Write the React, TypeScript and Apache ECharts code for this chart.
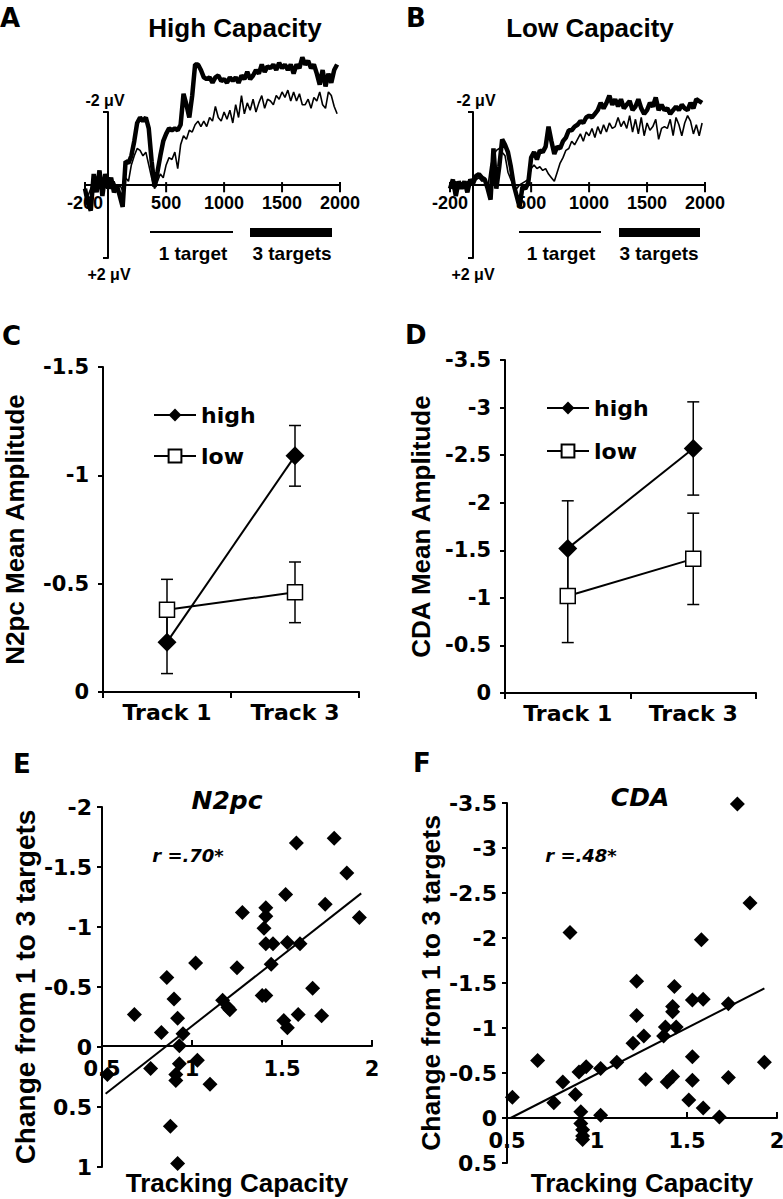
import React, { useEffect, useRef } from 'react';
import * as echarts from 'echarts';

const FA = '"Liberation Sans", Arial, sans-serif';
const FC = '"DejaVu Sans", sans-serif';

// ---------- Panels A / B : ERP waveforms ----------
const times = [
  -200, -175, -150, -125, -100, -75, -50, -25, 0, 25, 50, 75, 100, 125, 150, 175, 200, 225, 250, 275,
  300, 325, 350, 375, 400, 425, 450, 475, 500, 525, 550, 575, 600, 625, 650, 675, 700, 725, 750, 775,
  800, 825, 850, 875, 900, 925, 950, 975, 1000, 1025, 1050, 1075, 1100, 1125, 1150, 1175, 1200, 1225,
  1250, 1275, 1300, 1325, 1350, 1375, 1400, 1425, 1450, 1475, 1500, 1525, 1550, 1575, 1600, 1625,
  1650, 1675, 1700, 1725, 1750, 1775, 1800, 1825, 1850, 1875, 1900, 1925, 1950, 1975,
];
const highThree = [
  0.1, 0.5, 0.7, -0.3, 0.2, -0.4, 0.3, -0.3, 0.1, -0.2, 0.2, 0.0, 0.3, 0.6, -0.65, -0.6, -0.8, -1.2, -1.7, -1.85,
  -1.75, -1.85, -1.55, -0.65, 0.05, -0.35, -0.8, -1.2, -1.4, -1.55, -1.5, -1.55, -1.5, -1.65, -2.5, -2.2, -1.85, -2.45, -3.3, -3.3,
  -3.15, -2.95, -2.9, -2.95, -2.8, -2.95, -3.0, -2.85, -2.9, -2.8, -2.95, -2.85, -2.95, -2.8, -3.0, -2.9, -3.1, -2.9,
  -3.0, -3.15, -3.05, -3.3, -3.1, -3.25, -3.2, -3.3, -3.15, -3.35, -3.2, -3.3, -3.15, -3.3, -3.05, -3.3,
  -3.2, -3.5, -3.3, -3.4, -3.2, -3.3, -3.05, -2.75, -3.15, -2.7, -3.05, -2.8, -3.15, -3.3,
];
const highOne = [
  0.2, 0.3, 0.1, -0.2, 0.1, -0.1, 0.2, -0.1, 0.0, 0.1, -0.1, 0.1, 0.0, 0.15, -0.2, -0.1, -0.55, -0.8, -1.0, -0.95,
  -0.8, -0.9, -0.55, -0.2, 0.1, -0.1, -0.3, -0.2, -0.55, -0.75, -0.7, -0.9, -0.45, -1.1, -1.35, -1.25, -1.5, -1.45, -1.65, -1.75,
  -1.6, -1.75, -1.6, -1.85, -1.75, -2.15, -1.85, -1.75, -2.0, -1.8, -2.05, -1.7, -2.2, -1.85, -2.45, -1.95, -2.25, -2.05,
  -2.35, -2.0, -2.25, -2.45, -2.1, -2.35, -2.3, -2.2, -2.45, -2.35, -2.55, -2.4, -2.6, -2.3, -2.55, -2.3,
  -2.5, -2.2, -2.2, -2.35, -2.1, -2.4, -2.3, -2.55, -2.2, -2.1, -2.55, -2.45, -2.15, -1.95,
];
const lowThree = [
  0.1, -0.15, 0.3, -0.1, 0.1, -0.1, 0.2, -0.15, -0.05, -0.25, -0.3, -0.2, -0.15, 0.1, 0.4, -1.0, 0.1, -0.5, -1.25, -1.1,
  -0.9, -0.5, 0.0, 0.3, 0.6, 0.05, 0.1, -0.05, -0.75, -0.9, -0.7, -0.95, -0.9, -1.05, -1.6, -1.2, -0.85, -1.05, -1.0, -1.2,
  -1.3, -1.5, -1.5, -1.6, -1.65, -1.75, -1.7, -1.85, -1.9, -1.85, -1.95, -2.05, -2.25, -2.1, -2.25, -2.45, -2.2, -2.35,
  -2.15, -2.35, -2.1, -2.2, -2.3, -2.05, -2.15, -2.35, -2.1, -1.95, -2.05, -2.25, -2.15, -2.4, -2.05, -2.2,
  -2.05, -2.1, -1.95, -2.05, -2.15, -2.05, -2.2, -2.1, -2.05, -2.25, -2.1, -2.35, -2.3, -2.25,
];
const lowOne = [
  0.0, 0.1, -0.1, 0.1, -0.05, 0.05, -0.1, 0.0, -0.1, -0.15, -0.2, -0.1, -0.15, 0.1, -0.5, -0.8, -0.95, -1.0, -0.9, -0.8,
  -0.35, -0.15, 0.05, 0.1, 0.0, -0.05, -0.1, -0.15, -0.45, -0.55, -0.45, -0.5, -0.4, -0.45, -0.3, -0.2, -0.1, -0.35, -0.6, -0.75,
  -0.95, -1.0, -1.2, -1.1, -1.25, -1.4, -1.2, -1.45, -1.35, -1.55, -1.3, -1.6, -1.4, -1.65, -1.45, -1.7, -1.55, -1.6,
  -1.85, -1.6, -1.75, -1.55, -1.9, -1.45, -1.8, -1.4, -1.85, -1.35, -1.7, -1.5, -1.6, -1.8, -1.25, -1.55,
  -1.6, -1.55, -1.8, -1.35, -1.85, -1.65, -1.35, -1.7, -1.9, -1.75, -1.4, -1.65, -1.35, -1.7,
];
const xTicksAB = [-200, 500, 1000, 1500, 2000];
const tickSpanAB = [-0.08, 0.2]; // tick mark extent around the zero line, in µV
const yLabelsAB = ['-2 μV', '+2 μV'];
const titlesAB = ['High Capacity', 'Low Capacity'];
const legendAB = ['1 target', '3 targets'];

// ---------- Panels C / D : mean amplitudes ----------
const tracks = ['Track 1', 'Track 3'];
const groupNames = ['high', 'low'];
const n2pcHigh = [-0.23, -1.09];
const n2pcHighErr = [0.145, 0.14];
const n2pcLow = [-0.38, -0.46];
const n2pcLowErr = [0.14, 0.14];
const cdaHigh = [-1.52, -2.57];
const cdaHighErr = [0.5, 0.49];
const cdaLow = [-1.02, -1.41];
const cdaLowErr = [0.49, 0.48];

// ---------- Panels E / F : correlations ----------
const n2pcScatter = [
  [1.58, -1.7], [1.79, -1.74], [1.86, -1.45], [1.52, -1.27], [1.74, -1.19], [1.93, -1.08], [1.28, -1.12],
  [1.41, -1.16], [1.41, -1.09], [1.4, -0.99], [1.41, -0.86], [1.45, -0.86], [1.53, -0.87], [1.6, -0.86],
  [1.44, -0.69], [1.02, -0.7], [1.25, -0.66], [0.86, -0.58], [0.9, -0.4], [1.17, -0.39], [1.2, -0.33],
  [1.21, -0.31], [1.39, -0.43], [1.41, -0.43], [1.67, -0.49], [0.68, -0.27], [0.92, -0.24], [1.51, -0.22],
  [1.53, -0.16], [1.59, -0.27], [1.72, -0.26], [0.83, -0.12], [0.95, -0.11], [0.93, -0.01], [1.03, 0.11],
  [0.93, 0.14], [0.77, 0.18], [0.53, 0.23], [0.91, 0.23], [0.91, 0.28], [1.1, 0.31], [0.88, 0.66], [0.92, 0.97],
];
const n2pcFit = [[0.52, 0.39], [1.94, -1.28]];
const cdaScatter = [
  [1.78, -3.49], [1.85, -2.39], [0.85, -2.06], [1.58, -1.98], [1.22, -1.52], [1.43, -1.46], [1.53, -1.31],
  [1.59, -1.32], [1.73, -1.27], [1.42, -1.24], [1.42, -1.18], [1.22, -1.14], [1.38, -1.01], [1.44, -1.01],
  [1.37, -0.91], [1.26, -0.91], [1.2, -0.83], [1.11, -0.62], [1.02, -0.55], [0.94, -0.57], [0.9, -0.51],
  [0.67, -0.64], [1.53, -0.68], [1.93, -0.62], [0.81, -0.4], [1.27, -0.43], [1.39, -0.4], [1.42, -0.46],
  [1.53, -0.42], [1.73, -0.45], [0.53, -0.23], [0.76, -0.17], [0.88, -0.26], [1.51, -0.2], [1.59, -0.11],
  [1.68, -0.01], [1.02, -0.03], [0.91, -0.07], [0.91, 0.06], [0.92, 0.13], [0.92, 0.2], [0.92, 0.24],
];
const cdaFit = [[0.52, 0.0], [1.93, -1.44]];
const titlesEF = ['N2pc', 'CDA'];
const rValues = ['r =.70*', 'r =.48*'];
const panelLetters = ['A', 'B', 'C', 'D', 'E', 'F'];

const BLACK = '#000';

function zip(vals: number[]) {
  return times.map((t, i) => [t, vals[i]]);
}

function errRender(params: any, api: any) {
  const x = api.value(0);
  const m = api.value(1);
  const e = api.value(2);
  const top = api.coord([x, m - e]);
  const bot = api.coord([x, m + e]);
  const w = 6;
  const st = { stroke: BLACK, lineWidth: 1.5 };
  return {
    type: 'group',
    children: [
      { type: 'line', shape: { x1: top[0], y1: top[1], x2: bot[0], y2: bot[1] }, style: st },
      { type: 'line', shape: { x1: top[0] - w, y1: top[1], x2: top[0] + w, y2: top[1] }, style: st },
      { type: 'line', shape: { x1: bot[0] - w, y1: bot[1], x2: bot[0] + w, y2: bot[1] }, style: st },
    ],
  };
}

function text(t: string, x: number, y: number, font: string, align = 'center') {
  return {
    type: 'text',
    x,
    y,
    z: 100,
    style: {
      text: t,
      font,
      fill: BLACK,
      align,
      verticalAlign: 'middle',
      textAlign: align,
      textVerticalAlign: 'middle',
    },
  };
}

const axisLine = { lineStyle: { color: BLACK, width: 2 } };

function waveAxes(grid: number) {
  return {
    x: {
      type: 'value',
      gridIndex: grid,
      min: -200,
      max: 2000,
      interval: 100,
      offset: -73,
      axisLine: { show: false, onZero: false },
      axisTick: { show: false },
      axisLabel: {
        margin: 9,
        showMinLabel: true,
        showMaxLabel: true,
        color: BLACK,
        fontFamily: FA,
        fontWeight: 'bold',
        fontSize: 18,
        formatter: (v: number) => (xTicksAB.indexOf(v) >= 0 ? String(v) : ''),
      },
      splitLine: { show: false },
    },
    y: {
      type: 'value',
      gridIndex: grid,
      inverse: true,
      min: -2,
      max: 2,
      interval: 2,
      offset: -23,
      axisLine: { show: true, onZero: false, ...axisLine },
      axisTick: { show: true, length: 5, lineStyle: { color: BLACK, width: 2 } },
      axisLabel: { show: false },
      splitLine: { show: false },
    },
  };
}

function barAxes(grid: number, min: number, name: string, nameGap: number) {
  return {
    x: {
      type: 'category',
      gridIndex: grid,
      data: tracks,
      boundaryGap: true,
      axisLine: { onZero: false, ...axisLine },
      axisTick: { show: true, length: 6, lineStyle: { color: BLACK, width: 2 } },
      axisLabel: { margin: 9, color: BLACK, fontFamily: FC, fontWeight: 'bold', fontSize: 22 },
      splitLine: { show: false },
    },
    y: {
      type: 'value',
      gridIndex: grid,
      inverse: true,
      min,
      max: 0,
      interval: 0.5,
      name,
      nameLocation: 'middle',
      nameRotate: 90,
      nameGap,
      nameTextStyle: { color: BLACK, fontFamily: FA, fontWeight: 'bold', fontSize: 26 },
      axisLine: { show: true, ...axisLine },
      axisTick: { show: true, length: 5, lineStyle: { color: BLACK, width: 2 } },
      axisLabel: { margin: 14, color: BLACK, fontFamily: FC, fontWeight: 'bold', fontSize: 21 },
      splitLine: { show: false },
    },
  };
}

function scatterAxes(
  grid: number,
  ymin: number,
  ymax: number,
  xOffset: number,
  nameGapX: number,
  nameGapY: number,
  nameSize: number,
) {
  return {
    x: {
      type: 'value',
      gridIndex: grid,
      min: 0.5,
      max: 2,
      interval: 0.5,
      offset: xOffset,
      name: 'Tracking Capacity',
      nameLocation: 'middle',
      nameGap: nameGapX,
      nameTextStyle: { color: BLACK, fontFamily: FA, fontWeight: 'bold', fontSize: 26 },
      axisLine: { onZero: false, ...axisLine },
      axisTick: { show: true, inside: true, length: 6, lineStyle: { color: BLACK, width: 2 } },
      axisLabel: {
        margin: 12,
        showMinLabel: true,
        showMaxLabel: true,
        color: BLACK,
        fontFamily: FC,
        fontWeight: 'bold',
        fontSize: 21,
      },
      splitLine: { show: false },
    },
    y: {
      type: 'value',
      gridIndex: grid,
      inverse: true,
      min: ymin,
      max: ymax,
      interval: 0.5,
      name: 'Change from 1 to 3 targets',
      nameLocation: 'middle',
      nameRotate: 90,
      nameGap: nameGapY,
      nameTextStyle: { color: BLACK, fontFamily: FA, fontWeight: 'bold', fontSize: nameSize },
      axisLine: { show: true, onZero: false, ...axisLine },
      axisTick: { show: true, length: 5, lineStyle: { color: BLACK, width: 2 } },
      axisLabel: { margin: 10, color: BLACK, fontFamily: FC, fontWeight: 'bold', fontSize: 22 },
      splitLine: { show: false },
    },
  };
}

function buildOption() {
  const a = waveAxes(0);
  const b = waveAxes(1);
  const c = barAxes(2, -1.5, 'N2pc Mean Amplitude', 75);
  const d = barAxes(3, -3.5, 'CDA Mean Amplitude', 71);
  const e = scatterAxes(4, -2, 1, -121, 124, 62, 28);
  const f = scatterAxes(5, -3.5, 0.5, -45, 52, 62, 26.5);

  const wave = (name: string, vals: number[], grid: number, width: number) => ({
    name,
    type: 'line',
    xAxisIndex: grid,
    yAxisIndex: grid,
    data: zip(vals),
    showSymbol: false,
    symbol: 'none',
    clip: false,
    lineStyle: { color: BLACK, width },
    z: width > 2 ? 3 : 2,
  });

  // time axis of A/B: zero line + tick marks, drawn as thin rectangles placed by the chart's scales
  const timeAxisRender = (params: any, api: any) => {
    const v = api.value(0);
    const p = api.coord([v, 0]);
    const t0 = api.coord([v, tickSpanAB[0]]);
    const t1 = api.coord([v, tickSpanAB[1]]);
    const children: any[] = [
      { type: 'rect', shape: { x: p[0] - 1, y: t0[1], width: 2, height: t1[1] - t0[1] }, style: { fill: BLACK } },
    ];
    if (params.dataIndex === 0) {
      const end = api.coord([xTicksAB[xTicksAB.length - 1], 0]);
      children.push({
        type: 'rect',
        shape: { x: p[0], y: p[1] - 1, width: end[0] - p[0], height: 2 },
        style: { fill: BLACK },
      });
    }
    return { type: 'group', children };
  };
  const timeAxis = (grid: number) => ({
    type: 'custom',
    xAxisIndex: grid,
    yAxisIndex: grid,
    data: xTicksAB.map((v) => [v, 0]),
    encode: { x: 0, y: 1 },
    renderItem: timeAxisRender,
    clip: false,
    silent: true,
    z: 5,
  });

  const meanLine = (name: string, vals: number[], grid: number, high: boolean) => ({
    name,
    type: 'line',
    xAxisIndex: grid,
    yAxisIndex: grid,
    data: vals,
    symbol: high ? 'diamond' : 'rect',
    symbolSize: high ? 19 : 15,
    itemStyle: high ? { color: BLACK } : { color: '#fff', borderColor: BLACK, borderWidth: 1.5 },
    lineStyle: { color: BLACK, width: 2 },
    z: 3,
  });

  const errSeries = (means: number[], errs: number[], grid: number) => ({
    type: 'custom',
    xAxisIndex: grid,
    yAxisIndex: grid,
    data: means.map((m, i) => [i, m, errs[i]]),
    renderItem: errRender,
    z: 1,
  });

  const scatter = (pts: number[][], grid: number) => ({
    type: 'scatter',
    xAxisIndex: grid,
    yAxisIndex: grid,
    data: pts,
    symbol: 'diamond',
    symbolSize: 15,
    itemStyle: { color: BLACK, opacity: 1 },
    z: 3,
  });

  const fit = (pts: number[][], grid: number) => ({
    type: 'line',
    xAxisIndex: grid,
    yAxisIndex: grid,
    data: pts,
    showSymbol: false,
    symbol: 'none',
    lineStyle: { color: BLACK, width: 2 },
    z: 2,
  });

  const legendBase = {
    data: groupNames,
    orient: 'vertical',
    itemWidth: 42,
    itemHeight: 16,
    selectedMode: false,
    textStyle: { color: BLACK, fontFamily: FC, fontWeight: 'bold', fontSize: 22 },
  };

  const fLetter = `bold 26px ${FC}`;
  const fTitle = `bold 26px ${FA}`;
  const fLeg = `bold 19px ${FA}`;
  const fMicro = `bold 16px ${FA}`;

  const g = (o: any) => ({ ...o, outerBoundsMode: 'none', containLabel: false });

  return {
    animation: false,
    backgroundColor: '#fff',
    grid: [
      g({ left: 85, top: 112, width: 255, height: 146 }),
      g({ left: 450, top: 112, width: 255, height: 146 }),
      g({ left: 103, top: 367, width: 256, height: 325 }),
      g({ left: 505, top: 360, width: 251, height: 333 }),
      g({ left: 102, top: 807, width: 270, height: 360 }),
      g({ left: 507, top: 803, width: 270, height: 360 }),
    ],
    xAxis: [a.x, b.x, c.x, d.x, e.x, f.x],
    yAxis: [a.y, b.y, c.y, d.y, e.y, f.y],
    legend: [
      { ...legendBase, left: 148, top: 399, itemGap: 19 },
      { ...legendBase, left: 541, top: 392, itemGap: 21 },
    ],
    series: [
      wave('A 1 target', highOne, 0, 1.6),
      wave('A 3 targets', highThree, 0, 4.5),
      wave('B 1 target', lowOne, 1, 1.6),
      wave('B 3 targets', lowThree, 1, 4.5),
      timeAxis(0),
      timeAxis(1),
      errSeries(n2pcHigh, n2pcHighErr, 2),
      errSeries(n2pcLow, n2pcLowErr, 2),
      meanLine(groupNames[0], n2pcHigh, 2, true),
      meanLine(groupNames[1], n2pcLow, 2, false),
      errSeries(cdaHigh, cdaHighErr, 3),
      errSeries(cdaLow, cdaLowErr, 3),
      meanLine(groupNames[0], cdaHigh, 3, true),
      meanLine(groupNames[1], cdaLow, 3, false),
      fit(n2pcFit, 4),
      scatter(n2pcScatter, 4),
      fit(cdaFit, 5),
      scatter(cdaScatter, 5),
    ],
    graphic: [
      text(panelLetters[0], 0, 18, fLetter, 'left'),
      text(panelLetters[1], 406, 18, fLetter, 'left'),
      text(panelLetters[2], 2, 336, fLetter, 'left'),
      text(panelLetters[3], 405, 335, fLetter, 'left'),
      text(panelLetters[4], 13, 764, fLetter, 'left'),
      text(panelLetters[5], 413, 763, fLetter, 'left'),
      text(titlesAB[0], 235, 28, fTitle),
      text(titlesAB[1], 590, 28, fTitle),
      text(yLabelsAB[0], 105, 100, fMicro),
      text(yLabelsAB[1], 109, 274, fMicro),
      text(yLabelsAB[0], 476, 100, fMicro),
      text(yLabelsAB[1], 473, 274, fMicro),
      { type: 'line', z: 100, shape: { x1: 150, y1: 232, x2: 233, y2: 232 }, style: { stroke: BLACK, lineWidth: 2 } },
      { type: 'rect', z: 100, shape: { x: 250, y: 228, width: 82, height: 9 }, style: { fill: BLACK } },
      { type: 'line', z: 100, shape: { x1: 519, y1: 232, x2: 601, y2: 232 }, style: { stroke: BLACK, lineWidth: 2 } },
      { type: 'rect', z: 100, shape: { x: 619, y: 228, width: 81, height: 9 }, style: { fill: BLACK } },
      text(legendAB[0], 193, 253, fLeg),
      text(legendAB[1], 292, 253, fLeg),
      text(legendAB[0], 561, 253, fLeg),
      text(legendAB[1], 659, 253, fLeg),
      text(titlesEF[0], 227, 800, `italic bold 25px ${FC}`),
      text(titlesEF[1], 640, 797, `italic bold 25px ${FC}`),
      text(rValues[0], 188, 855, `italic bold 18px ${FC}`),
      text(rValues[1], 581, 855, `italic bold 18px ${FC}`),
    ],
  };
}

export default function App() {
  const ref = useRef<HTMLDivElement>(null);
  useEffect(() => {
    if (!ref.current) return;
    const chart = echarts.init(ref.current, null, { renderer: 'svg' });
    chart.setOption(buildOption() as any);
    return () => chart.dispose();
  }, []);
  return (
    <div
      ref={ref}
      style={{ position: 'fixed', left: 0, top: 0, width: 783, height: 1199, background: '#fff' }}
    />
  );
}
